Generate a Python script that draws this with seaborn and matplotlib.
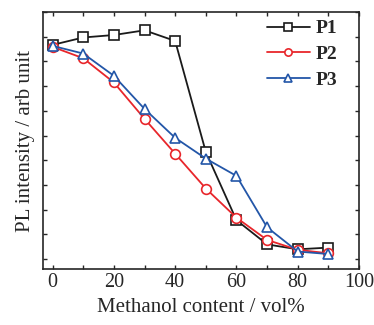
import pandas as pd
import seaborn as sns
import matplotlib.pyplot as plt
from matplotlib.ticker import MultipleLocator

# methanol content (vol%) and PL intensity
methanol = [0, 10, 20, 30, 40, 50, 60, 70, 80, 90]
p1 = [8.67, 8.97, 9.07, 9.26, 8.83, 4.34, 1.58, 0.60, 0.40, 0.47]
p2 = [8.59, 8.13, 7.15, 5.68, 4.27, 2.86, 1.68, 0.78, 0.38, 0.24]
p3 = [8.63, 8.32, 7.42, 6.08, 4.91, 4.07, 3.37, 1.29, 0.31, 0.21]

names = ['P1', 'P2', 'P3']
colors = ['#1a1a1a', '#e8262b', '#2356a8']
markers = ['s', 'o', '^']

sns.set_style('ticks')
plt.rcParams['font.family'] = ['Liberation Serif', 'DejaVu Serif']

fig = plt.figure(figsize=(3.74, 3.25), dpi=100)
ax = fig.add_axes([0.116, 0.172, 0.844, 0.791])

for name, vals, c, m in zip(names, [p1, p2, p3], colors, markers):
    df = pd.DataFrame({'x': methanol, 'y': vals})
    sns.lineplot(data=df, x='x', y='y', ax=ax, color=c, marker=m,
                 markersize=7, markerfacecolor='white', markeredgecolor=c,
                 markeredgewidth=1.2, linewidth=1.3, label=name)

ax.set_xlim(-3, 100)
ax.set_ylim(-0.4, 10)
ax.xaxis.set_major_locator(MultipleLocator(20))
ax.xaxis.set_minor_locator(MultipleLocator(10))
ax.yaxis.set_major_locator(MultipleLocator(1))
ax.tick_params(which='both', direction='in', top=True, right=True,
               labelsize=14.5, width=1, length=3, pad=3)
ax.tick_params(axis='y', labelleft=False)
for s in ax.spines.values():
    s.set_linewidth(1.2)

ax.set_xlabel('Methanol content / vol%', fontsize=15)
ax.set_ylabel('PL intensity / arb unit', fontsize=15, labelpad=6)

leg = ax.legend(loc='upper right', bbox_to_anchor=(0.956, 1.0), frameon=False,
                handlelength=2.2, handletextpad=0.3, labelspacing=0.42,
                borderaxespad=0, markerscale=0.75,
                prop={'weight': 'bold', 'size': 14})

fig.savefig('out.png', dpi=100)
